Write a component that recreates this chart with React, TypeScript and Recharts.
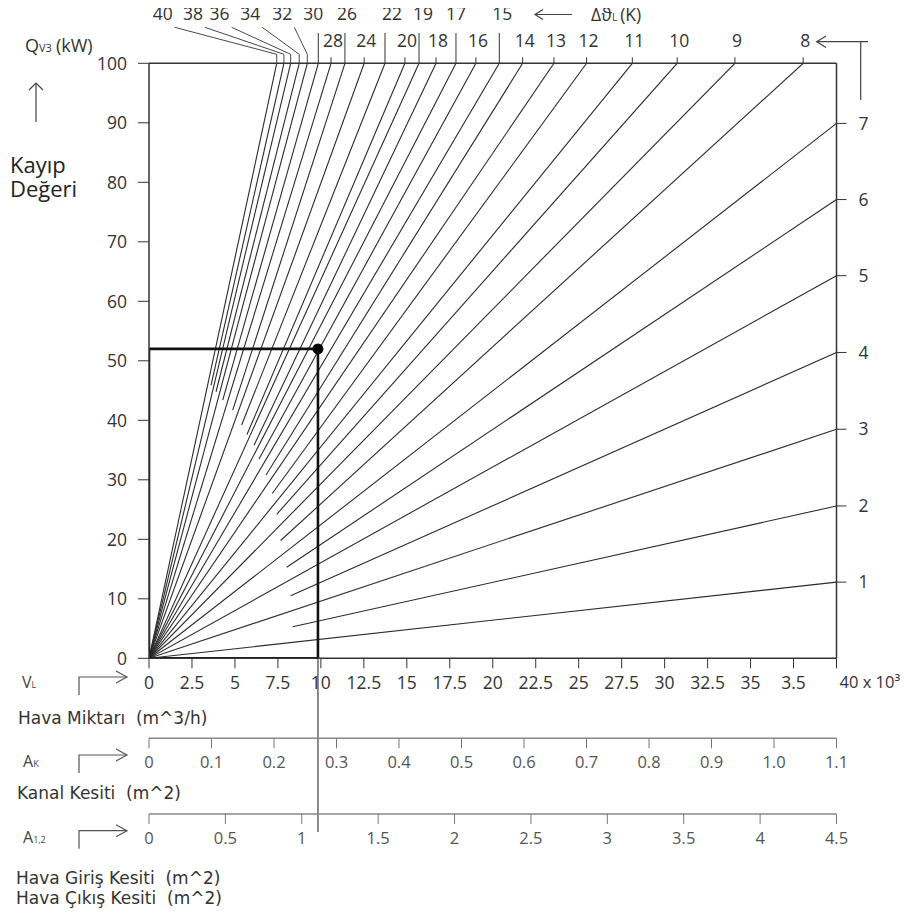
import React from "react";
import { ComposedChart, Line, XAxis, YAxis, ReferenceDot, ReferenceLine } from "recharts";

// Δθ_L (K) of every line in the fan
const dTheta = [1, 2, 3, 4, 5, 6, 7, 8, 9, 10, 11, 12, 13, 14, 15, 16, 17, 18, 19, 20, 22, 24, 26, 28, 30, 32, 34, 36, 38, 40];
// where each line leaves the plot (V in 10^3 m^3/h, Q in kW)
const endV = [40, 40, 40, 40, 40, 40, 40, 38.06, 34.09, 30.73, 28.12, 25.46, 23.56, 21.74, 20.38, 19.02, 17.86, 16.7, 15.71, 14.89, 13.73, 12.52, 11.4, 10.59, 9.85, 9.21, 8.74, 8.24, 7.85, 7.43];
const endQ = [12.8, 25.6, 38.5, 51.4, 64.3, 77.1, 89.9, 100, 100, 100, 100, 100, 100, 100, 100, 100, 100, 100, 100, 100, 100, 100, 100, 100, 100, 100, 100, 100, 100, 100];
// where each line starts (0 = from the origin)
const startV = [0, 8.36, 0, 8.24, 0, 8.01, 0, 7.66, 0, 7.43, 0, 7.17, 0, 6.81, 0, 6.4, 0, 6.11, 0, 5.7, 5.39, 0, 4.87, 0, 4.29, 0, 3.9, 0, 3.61, 0];
const startQ = [0, 5.3, 0, 10.5, 0, 15.3, 0, 19.8, 0, 24.2, 0, 27.7, 0, 30.8, 0, 33.5, 0, 35.8, 0, 37.6, 39.2, 0, 41.7, 0, 43.4, 0, 44.8, 0, 45.9, 0];

// worked example
const opV = 9.83;
const opQ = 52;
const guideBottomQ = -29.2;

const qTicks = [0, 10, 20, 30, 40, 50, 60, 70, 80, 90, 100];
const vTicks = [0, 2.5, 5, 7.5, 10, 12.5, 15, 17.5, 20, 22.5, 25, 27.5, 30, 32.5, 35, 37.5, 40];
const vTickLabels = ["0", "2.5", "5", "7.5", "10", "12.5", "15", "17.5", "20", "22.5", "25", "27.5", "30", "32.5", "35", "3.5", "40 x 10³"];
const akTicks = [0, 0.1, 0.2, 0.3, 0.4, 0.5, 0.6, 0.7, 0.8, 0.9, 1.0, 1.1];
const akTickLabels = ["0", "0.1", "0.2", "0.3", "0.4", "0.5", "0.6", "0.7", "0.8", "0.9", "1.0", "1.1"];
const a12Ticks = [0, 0.5, 1, 1.5, 2, 2.5, 3, 3.5, 4, 4.5];
const a12TickLabels = ["0", "0.5", "1", "1.5", "2", "2.5", "3", "3.5", "4", "4.5"];

// labels in the upper row on top, and which of them use slanted leaders
const upperRow = [40, 38, 36, 34, 32, 30, 26, 22, 19, 17, 15];
const leaderRow = [40, 38, 36, 34, 32];
const upperDx: Record<number, number> = { 40: -114, 38: -91, 36: -71, 34: -49, 32: -25, 30: -5, 26: 2, 22: 7, 19: 4, 17: 0, 15: 3 };

const ink = "#333";
const font = "'Open Sans', 'DejaVu Sans', sans-serif";
const labelFont = "'DejaVu Sans', Verdana, sans-serif";
const fs = 17.5;

const topEnds = endV.filter((_, i) => endQ[i] === 100);
const rightEnds = endQ.filter((_, i) => endV[i] === 40);

const TopTick = (props: any) => {
  const { x, y, payload } = props;
  const i = endV.indexOf(payload.value);
  const t = dTheta[i];
  if (!upperRow.includes(t)) {
    return (
      <g>
        <line x1={x} x2={x} y1={y} y2={y - 6} stroke={ink} />
        <text x={x + 2} y={y - 16.6} textAnchor="middle" fontSize={fs} fill={ink} fontFamily={font}>{t}</text>
      </g>
    );
  }
  const lx = x + upperDx[t];
  return (
    <g>
      {leaderRow.includes(t) ? (
        <polyline points={`${lx + 12},${y - 36} ${x},${y - 9} ${x},${y}`} fill="none" stroke={ink} strokeWidth={0.9} />
      ) : (
        <line x1={x} x2={x} y1={y} y2={y - 30.3} stroke={ink} />
      )}
      <text x={lx} y={y - 43} textAnchor="middle" fontSize={fs} fill={ink} fontFamily={font}>{t}</text>
    </g>
  );
};

const VTick = (props: any) => {
  const { x, y, payload } = props;
  const i = vTicks.indexOf(payload.value);
  const last = i === vTicks.length - 1;
  return (
    <text
      x={last ? x + 3 : x}
      y={y}
      dy="0.71em"
      textAnchor={last ? "start" : "middle"}
      fontSize={last ? 16.5 : fs}
      fill={ink}
      fontFamily={font}
    >
      {vTickLabels[i]}
    </text>
  );
};

const Bracket = ({ y }: { y: number }) => (
  <g fill="none" stroke="#555" strokeWidth={1.2}>
    <polyline points={`79,${y + 18} 79,${y} 127,${y}`} />
    <polyline points={`116,${y - 6} 127,${y} 116,${y + 6}`} />
  </g>
);

export default function App() {
  const fan = dTheta.map((t, i) => ({
    t,
    pts: [
      { v: startV[i], q: startQ[i] },
      { v: endV[i], q: endQ[i] },
    ],
  }));
  const box = [
    { v: 0, q: 0 },
    { v: 0, q: opQ },
    { v: opV, q: opQ },
    { v: opV, q: 0 },
    { v: 0, q: 0 },
  ];
  // invisible series so that the secondary axes get a domain and draw their ticks
  const hidden = (id: string, vals: number[]) => (
    <Line
      key={"h" + id}
      xAxisId={id}
      yAxisId="q"
      data={vals.map((v) => ({ v, q: 0 }))}
      dataKey="q"
      stroke="none"
      dot={false}
      activeDot={false}
      legendType="none"
      isAnimationActive={false}
    />
  );
  return (
    <div style={{ position: "relative", width: 909, height: 913, margin: "-8px 0 0 -8px" }}>
      <ComposedChart width={909} height={913} margin={{ top: 33.3, right: 22.5, bottom: 59, left: 89 }} style={{ fontFamily: font }}>
        <XAxis
          xAxisId="x3"
          dataKey="v"
          type="number"
          domain={[0, 4.5]}
          allowDataOverflow
          ticks={a12Ticks}
          interval={0}
          height={40}
          tickSize={10}
          tickMargin={8}
          tickFormatter={(v: number) => a12TickLabels[a12Ticks.indexOf(v)]}
          tick={{ fontSize: 16.5, fill: "#555", fontFamily: font }}
          axisLine={{ stroke: "#888", strokeWidth: 1.5 }}
          tickLine={{ stroke: "#777" }}
        />
        <XAxis
          xAxisId="x2"
          dataKey="v"
          type="number"
          domain={[0, 1.1]}
          allowDataOverflow
          ticks={akTicks}
          interval={0}
          height={75.7}
          tickSize={10}
          tickMargin={8}
          tickFormatter={(v: number) => akTickLabels[akTicks.indexOf(v)]}
          tick={{ fontSize: 16.5, fill: "#555", fontFamily: font }}
          axisLine={{ stroke: "#888", strokeWidth: 1.5 }}
          tickLine={{ stroke: "#777" }}
        />
        <XAxis
          xAxisId="x1"
          dataKey="v"
          type="number"
          domain={[0, 40]}
          allowDataOverflow
          ticks={vTicks}
          interval={0}
          height={80}
          tickSize={10}
          tickMargin={8}
          tick={<VTick />}
          axisLine={{ stroke: ink, strokeWidth: 1.5 }}
          tickLine={{ stroke: ink }}
        />
        <XAxis
          xAxisId="xt"
          dataKey="v"
          orientation="top"
          type="number"
          domain={[0, 40]}
          allowDataOverflow
          ticks={topEnds}
          interval={0}
          height={30}
          tickSize={0}
          tickMargin={0}
          tickLine={false}
          tick={<TopTick />}
          axisLine={{ stroke: ink, strokeWidth: 1.5 }}
        />
        <YAxis
          yAxisId="q"
          type="number"
          domain={[0, 100]}
          allowDataOverflow
          ticks={qTicks}
          interval={0}
          width={60}
          tickSize={11}
          tickMargin={11}
          tick={{ fontSize: fs, fill: ink, fontFamily: font }}
          axisLine={{ stroke: ink, strokeWidth: 1.5 }}
          tickLine={{ stroke: ink }}
        />
        <YAxis
          yAxisId="r"
          orientation="right"
          type="number"
          domain={[0, 100]}
          allowDataOverflow
          ticks={rightEnds}
          interval={0}
          width={50}
          tickSize={10}
          tickMargin={12}
          tickFormatter={(v: number) => String(dTheta[endQ.indexOf(v)])}
          tick={{ fontSize: fs, fill: ink, fontFamily: font }}
          axisLine={{ stroke: ink, strokeWidth: 1.5 }}
          tickLine={{ stroke: ink }}
        />
        {hidden("x2", akTicks)}
        {hidden("x3", a12Ticks)}
        {hidden("xt", topEnds)}
        {fan.map((f) => (
          <Line
            key={f.t}
            xAxisId="x1"
            yAxisId="q"
            data={f.pts}
            dataKey="q"
            type="linear"
            stroke="#2b2b2b"
            strokeWidth={1.1}
            dot={false}
            activeDot={false}
            isAnimationActive={false}
          />
        ))}
        <ReferenceLine
          xAxisId="x1"
          yAxisId="q"
          segment={[
            { x: opV, y: 0 },
            { x: opV, y: guideBottomQ },
          ]}
          ifOverflow="visible"
          stroke="#666"
          strokeWidth={1.5}
        />
        <Line
          xAxisId="x1"
          yAxisId="q"
          data={box}
          dataKey="q"
          type="linear"
          stroke="#111"
          strokeWidth={2.6}
          dot={false}
          activeDot={false}
          isAnimationActive={false}
        />
        <ReferenceDot xAxisId="x1" yAxisId="q" x={opV} y={opQ} r={5.5} fill="#000" stroke="none" ifOverflow="visible" />
      </ComposedChart>

      <svg
        width={909}
        height={913}
        style={{ position: "absolute", left: 0, top: 0, overflow: "visible", pointerEvents: "none" }}
      >
        {/* y title */}
        <text x={25} y={51.7} fontSize={18} fill={ink} fontFamily={font}>
          Q<tspan fontSize={11}>V3</tspan>
          <tspan dx={4}>(kW)</tspan>
        </text>
        <g fill="none" stroke="#444" strokeWidth={1.2}>
          <line x1={36} y1={83} x2={36} y2={122} />
          <polyline points="29,90 36,83 43,90" />
        </g>
        <text fontSize={22} fill="#222" fontFamily={font}>
          <tspan x={10} y={173}>Kayıp</tspan>
          <tspan x={10} y={197}>Değeri</tspan>
        </text>

        {/* Δθ title */}
        <g fill="none" stroke="#444" strokeWidth={1.2}>
          <line x1={535} y1={14.5} x2={572} y2={14.5} />
          <polyline points="543,9.5 535,14.5 543,19.5" />
          <polyline points="868,41.7 860.7,41.7 860.7,100" />
          <line x1={816.7} y1={41.7} x2={860.7} y2={41.7} />
          <polyline points="826,36 816.7,41.7 826,47.4" />
        </g>
        <text x={591} y={20.5} fontSize={fs} fill={ink} fontFamily={font}>
          Δϑ<tspan fontSize={10}>L</tspan>
          <tspan dx={3}>(K)</tspan>
        </text>

        {/* lower scale captions */}
        <text x={22} y={688} fontSize={16} fill="#444" fontFamily={font}>
          V<tspan fontSize={9}>L</tspan>
        </text>
        <Bracket y={677} />
        <text x={18} y={724} fontSize={17} fill={ink} fontFamily={labelFont} style={{ whiteSpace: "pre" }}>
          Hava Miktarı  (m^3/h)
        </text>

        <text x={23} y={767} fontSize={16} fill="#444" fontFamily={font}>
          A<tspan fontSize={9}>K</tspan>
        </text>
        <Bracket y={755} />
        <text x={17} y={799} fontSize={17} fill={ink} fontFamily={labelFont} style={{ whiteSpace: "pre" }}>
          Kanal Kesiti  (m^2)
        </text>

        <text x={23} y={843} fontSize={16} fill="#444" fontFamily={font}>
          A<tspan fontSize={9}>1,2</tspan>
        </text>
        <Bracket y={830.7} />
        <text fontSize={17} fill={ink} fontFamily={labelFont} style={{ whiteSpace: "pre" }}>
          <tspan x={16} y={884}>Hava Giriş Kesiti  (m^2)</tspan>
          <tspan x={16} y={904}>Hava Çıkış Kesiti  (m^2)</tspan>
        </text>
      </svg>
    </div>
  );
}
